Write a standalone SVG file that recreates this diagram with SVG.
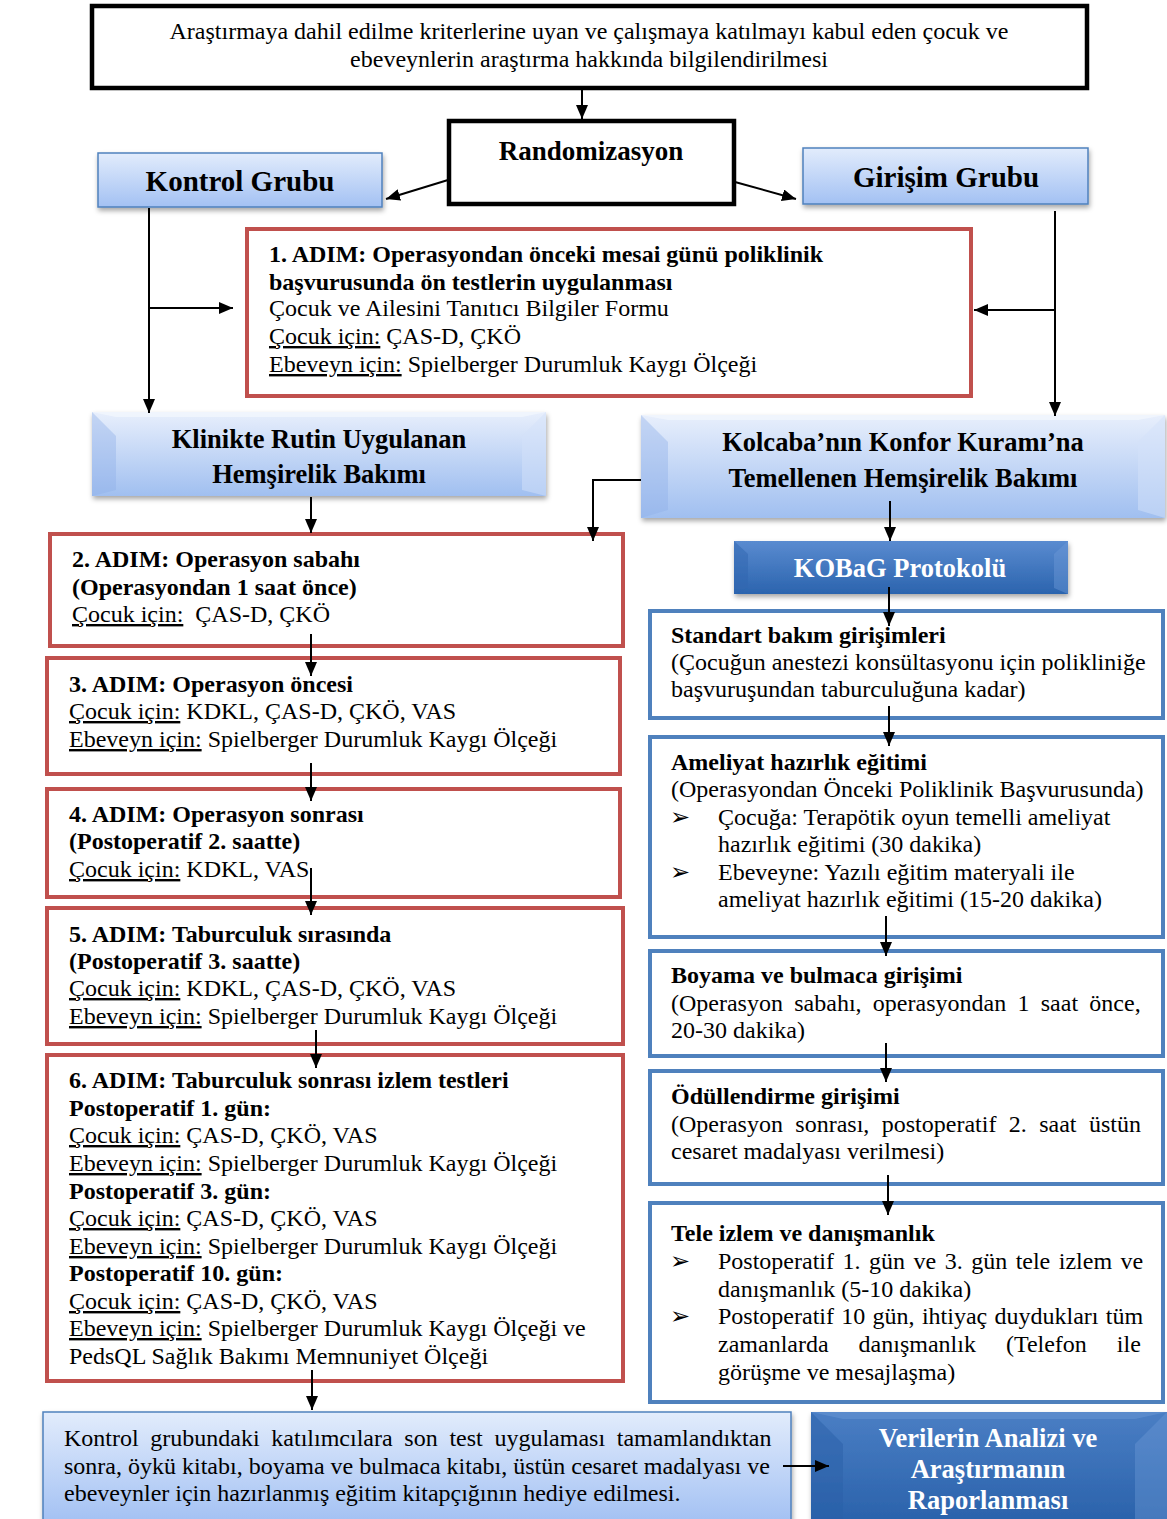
<svg xmlns="http://www.w3.org/2000/svg" width="1167" height="1519" viewBox="0 0 1167 1519">
<defs>
<style>
.t{font-family:"Liberation Serif","Times New Roman",serif;font-size:24px;fill:#000}
.b{font-weight:bold}
.u{text-decoration:underline}
.h{font-family:"Liberation Serif","Times New Roman",serif;font-weight:bold;fill:#000}
.w{fill:#fff}
.bul{font-family:"DejaVu Sans",sans-serif;font-size:24px}
.red{fill:#fff;stroke:#c0504d;stroke-width:4}
.blu{fill:#fff;stroke:#4f81bd;stroke-width:4}
.blk{fill:#fff;stroke:#000;stroke-width:4.5}
.lb{fill:url(#gLight);stroke:#4f81bd;stroke-width:1.5}
.c{fill:none;stroke:#000;stroke-width:2;marker-end:url(#ah)}
</style>
<linearGradient id="gLight" x1="0" y1="0" x2="0" y2="1">
<stop offset="0" stop-color="#e2ecfc"/><stop offset="1" stop-color="#a3c1f3"/>
</linearGradient>
<linearGradient id="gBev" x1="0" y1="0" x2="0" y2="1">
<stop offset="0" stop-color="#e8effc"/><stop offset="1" stop-color="#a0bff0"/>
</linearGradient>
<linearGradient id="gDark" x1="0" y1="0" x2="0" y2="1">
<stop offset="0" stop-color="#5a8bd0"/><stop offset="1" stop-color="#2b64ae"/>
</linearGradient>
<linearGradient id="gDark2" x1="0" y1="0" x2="0" y2="1">
<stop offset="0" stop-color="#4a7ec4"/><stop offset="1" stop-color="#2a62ab"/>
</linearGradient>
<filter id="sh" x="-5%" y="-10%" width="110%" height="130%">
<feDropShadow dx="1" dy="3" stdDeviation="2.5" flood-color="#000" flood-opacity="0.35"/>
</filter>
<marker id="ah" viewBox="0 0 14 12" refX="14" refY="6" markerWidth="14" markerHeight="12" markerUnits="userSpaceOnUse" orient="auto">
<path d="M0,0 L14,6 L0,12 z" fill="#000"/>
</marker>
</defs>
<rect width="1167" height="1519" fill="#fff"/>

<g id="top">
<rect class="blk" x="92" y="6" width="995" height="82"/>
<text class="t" x="589" y="39" text-anchor="middle">Araştırmaya dahil edilme kriterlerine uyan ve çalışmaya katılmayı kabul eden çocuk ve</text>
<text class="t" x="589" y="67" text-anchor="middle">ebeveynlerin araştırma hakkında bilgilendirilmesi</text>
</g>

<g id="randomizasyon">
<rect class="blk" x="449" y="121" width="285" height="83"/>
<text class="h" x="591" y="160" font-size="27" text-anchor="middle">Randomizasyon</text>
</g>

<g id="kontrol-grubu">
<rect class="lb" x="98" y="153" width="284" height="54" filter="url(#sh)"/>
<text class="h" x="240" y="191" font-size="29" text-anchor="middle">Kontrol Grubu</text>
</g>

<g id="girisim-grubu">
<rect class="lb" x="803" y="148" width="285" height="56" filter="url(#sh)"/>
<text class="h" x="946" y="187" font-size="29" text-anchor="middle">Girişim Grubu</text>
</g>

<g id="adim1">
<rect class="red" x="247" y="229" width="724" height="167"/>
<text class="t b" x="269" y="262">1. ADIM: Operasyondan önceki mesai günü poliklinik</text>
<text class="t b" x="269" y="290">başvurusunda ön testlerin uygulanması</text>
<text class="t" x="269" y="316">Çocuk ve Ailesini Tanıtıcı Bilgiler Formu</text>
<text class="t" x="269" y="344"><tspan class="u">Çocuk için:</tspan> ÇAS-D, ÇKÖ</text>
<text class="t" x="269" y="372"><tspan class="u">Ebeveyn için:</tspan> Spielberger Durumluk Kaygı Ölçeği</text>
</g>

<g id="klinikte">
<g filter="url(#sh)">
<rect x="92" y="412" width="454" height="84" fill="url(#gBev)"/>
<polygon points="92,412 116,436 116,490 92,496" fill="#8fb0e8" opacity="0.4"/>
<polygon points="546,412 522,436 522,490 546,496" fill="#d3e2fa" opacity="0.5"/>
<polygon points="92,412 546,412 522,417 116,417" fill="#f4f8fe" opacity="0.7"/>
</g>
<text class="h" x="319" y="448" font-size="26.5" text-anchor="middle">Klinikte Rutin Uygulanan</text>
<text class="h" x="319" y="483" font-size="26.5" text-anchor="middle">Hemşirelik Bakımı</text>
</g>

<g id="kolcaba">
<g filter="url(#sh)">
<rect x="641" y="415" width="524" height="103" fill="url(#gBev)"/>
<polygon points="641,415 668,442 668,510 641,518" fill="#8fb0e8" opacity="0.4"/>
<polygon points="1165,415 1138,442 1138,510 1165,518" fill="#d3e2fa" opacity="0.5"/>
<polygon points="641,415 1165,415 1138,420 668,420" fill="#f4f8fe" opacity="0.7"/>
</g>
<text class="h" x="903" y="451" font-size="26.5" text-anchor="middle">Kolcaba’nın Konfor Kuramı’na</text>
<text class="h" x="903" y="487" font-size="26.5" text-anchor="middle">Temellenen Hemşirelik Bakımı</text>
</g>

<g id="kobag">
<g filter="url(#sh)">
<rect x="734" y="541" width="334" height="53" fill="url(#gDark)"/>
<polygon points="734,541 748,554 748,588 734,594" fill="#2f66b0" opacity="0.5"/>
<polygon points="1068,541 1054,554 1054,588 1068,594" fill="#6d9ad8" opacity="0.45"/>
</g>
<text class="h w" x="900" y="577" font-size="26.5" text-anchor="middle">KOBaG Protokolü</text>
</g>

<g id="adim2">
<rect class="red" x="50" y="534" width="573" height="112"/>
<text class="t b" x="72" y="567">2. ADIM: Operasyon sabahı</text>
<text class="t b" x="72" y="595">(Operasyondan 1 saat önce)</text>
<text class="t" x="72" y="622"><tspan class="u">Çocuk için:</tspan>&#160; ÇAS-D, ÇKÖ</text>
</g>

<g id="adim3">
<rect class="red" x="47" y="658" width="573" height="116"/>
<text class="t b" x="69" y="692">3. ADIM: Operasyon öncesi</text>
<text class="t" x="69" y="719"><tspan class="u">Çocuk için:</tspan> KDKL, ÇAS-D, ÇKÖ, VAS</text>
<text class="t" x="69" y="747"><tspan class="u">Ebeveyn için:</tspan> Spielberger Durumluk Kaygı Ölçeği</text>
</g>

<g id="adim4">
<rect class="red" x="47" y="789" width="573" height="108"/>
<text class="t b" x="69" y="822">4. ADIM: Operasyon sonrası</text>
<text class="t b" x="69" y="849">(Postoperatif 2. saatte)</text>
<text class="t" x="69" y="877"><tspan class="u">Çocuk için:</tspan> KDKL, VAS</text>
</g>

<g id="adim5">
<rect class="red" x="47" y="908" width="576" height="136"/>
<text class="t b" x="69" y="942">5. ADIM: Taburculuk sırasında</text>
<text class="t b" x="69" y="969">(Postoperatif 3. saatte)</text>
<text class="t" x="69" y="996"><tspan class="u">Çocuk için:</tspan> KDKL, ÇAS-D, ÇKÖ, VAS</text>
<text class="t" x="69" y="1024"><tspan class="u">Ebeveyn için:</tspan> Spielberger Durumluk Kaygı Ölçeği</text>
</g>

<g id="adim6">
<rect class="red" x="47" y="1055" width="576" height="326"/>
<text class="t b" x="69" y="1088">6. ADIM: Taburculuk sonrası izlem testleri</text>
<text class="t b" x="69" y="1116">Postoperatif 1. gün:</text>
<text class="t" x="69" y="1143"><tspan class="u">Çocuk için:</tspan> ÇAS-D, ÇKÖ, VAS</text>
<text class="t" x="69" y="1171"><tspan class="u">Ebeveyn için:</tspan> Spielberger Durumluk Kaygı Ölçeği</text>
<text class="t b" x="69" y="1199">Postoperatif 3. gün:</text>
<text class="t" x="69" y="1226"><tspan class="u">Çocuk için:</tspan> ÇAS-D, ÇKÖ, VAS</text>
<text class="t" x="69" y="1254"><tspan class="u">Ebeveyn için:</tspan> Spielberger Durumluk Kaygı Ölçeği</text>
<text class="t b" x="69" y="1281">Postoperatif 10. gün:</text>
<text class="t" x="69" y="1309"><tspan class="u">Çocuk için:</tspan> ÇAS-D, ÇKÖ, VAS</text>
<text class="t" x="69" y="1336"><tspan class="u">Ebeveyn için:</tspan> Spielberger Durumluk Kaygı Ölçeği ve</text>
<text class="t" x="69" y="1364">PedsQL Sağlık Bakımı Memnuniyet Ölçeği</text>
</g>

<g id="standart">
<rect class="blu" x="650" y="611" width="513" height="107"/>
<text class="t b" x="671" y="643">Standart bakım girişimleri</text>
<text class="t" x="671" y="670">(Çocuğun anestezi konsültasyonu için polikliniğe</text>
<text class="t" x="671" y="697">başvuruşundan taburculuğuna kadar)</text>
</g>

<g id="ameliyat">
<rect class="blu" x="650" y="737" width="513" height="200"/>
<text class="t b" x="671" y="770">Ameliyat hazırlık eğitimi</text>
<text class="t" x="671" y="797">(Operasyondan Önceki Poliklinik Başvurusunda)</text>
<text class="bul" x="670" y="825">➢</text>
<text class="t" x="718" y="825">Çocuğa: Terapötik oyun temelli ameliyat</text>
<text class="t" x="718" y="852">hazırlık eğitimi (30 dakika)</text>
<text class="bul" x="670" y="880">➢</text>
<text class="t" x="718" y="880">Ebeveyne: Yazılı eğitim materyali ile</text>
<text class="t" x="718" y="907">ameliyat hazırlık eğitimi (15-20 dakika)</text>
</g>

<g id="boyama">
<rect class="blu" x="650" y="951" width="513" height="105"/>
<text class="t b" x="671" y="983">Boyama ve bulmaca girişimi</text>
<text class="t" x="671" y="1011" word-spacing="5.3">(Operasyon sabahı, operasyondan 1 saat önce,</text>
<text class="t" x="671" y="1038">20-30 dakika)</text>
</g>

<g id="odullendirme">
<rect class="blu" x="650" y="1071" width="513" height="113"/>
<text class="t b" x="671" y="1104">Ödüllendirme girişimi</text>
<text class="t" x="671" y="1132" word-spacing="6.4">(Operasyon sonrası, postoperatif 2. saat üstün</text>
<text class="t" x="671" y="1159">cesaret madalyası verilmesi)</text>
</g>

<g id="tele">
<rect class="blu" x="650" y="1203" width="513" height="199"/>
<text class="t b" x="671" y="1241">Tele izlem ve danışmanlık</text>
<text class="bul" x="670" y="1269">➢</text>
<text class="t" x="718" y="1269" word-spacing="2.5">Postoperatif 1. gün ve 3. gün tele izlem ve</text>
<text class="t" x="718" y="1297">danışmanlık (5-10 dakika)</text>
<text class="bul" x="670" y="1324">➢</text>
<text class="t" x="718" y="1324" word-spacing="1.3">Postoperatif 10 gün, ihtiyaç duydukları tüm</text>
<text class="t" x="718" y="1352" word-spacing="24">zamanlarda danışmanlık (Telefon ile</text>
<text class="t" x="718" y="1380">görüşme ve mesajlaşma)</text>
</g>

<g id="kontrol-son">
<rect class="lb" x="43" y="1412" width="748" height="110" filter="url(#sh)"/>
<text class="t" x="64" y="1446" word-spacing="5.7">Kontrol grubundaki katılımcılara son test uygulaması tamamlandıktan</text>
<text class="t" x="64" y="1474">sonra, öykü kitabı, boyama ve bulmaca kitabı, üstün cesaret madalyası ve</text>
<text class="t" x="64" y="1501">ebeveynler için hazırlanmış eğitim kitapçığının hediye edilmesi.</text>
</g>

<g id="verilerin">
<g filter="url(#sh)">
<rect x="811" y="1412" width="356" height="110" fill="url(#gDark2)"/>
<polygon points="811,1412 843,1444 843,1519 811,1519" fill="#2a60a8" opacity="0.5"/>
<polygon points="1167,1412 1135,1444 1135,1519 1167,1519" fill="#6d9ad8" opacity="0.4"/>
<polygon points="811,1412 1167,1412 1135,1419 843,1419" fill="#6f9bd8" opacity="0.45"/>
</g>
<text class="h w" x="988" y="1447" font-size="26.5" text-anchor="middle">Verilerin Analizi ve</text>
<text class="h w" x="988" y="1478" font-size="26.5" text-anchor="middle">Araştırmanın</text>
<text class="h w" x="988" y="1509" font-size="26.5" text-anchor="middle">Raporlanması</text>
</g>

<g id="connectors">
<path class="c" d="M582,89 V119"/>
<path class="c" d="M448,180 L386,199"/>
<path class="c" d="M735,182 L796,199"/>
<path class="c" d="M149,208 V413"/>
<path class="c" d="M149,308 H233"/>
<path class="c" d="M1055,211 V416"/>
<path class="c" d="M1055,310 H974"/>
<path class="c" d="M311,497 V533"/>
<path class="c" d="M641,480 H593 V541"/>
<path class="c" d="M890,501 V541"/>
<path class="c" d="M889,587 V626"/>
<path class="c" d="M889,706 V746"/>
<path class="c" d="M886,916 V956"/>
<path class="c" d="M886,1043 V1082"/>
<path class="c" d="M888,1175 V1215"/>
<path class="c" d="M311,634 V676"/>
<path class="c" d="M311,763 V801"/>
<path class="c" d="M311,868 V915"/>
<path class="c" d="M316,1030 V1068"/>
<path class="c" d="M312,1370 V1410"/>
<path class="c" d="M783,1466 H829"/>
</g>
</svg>
